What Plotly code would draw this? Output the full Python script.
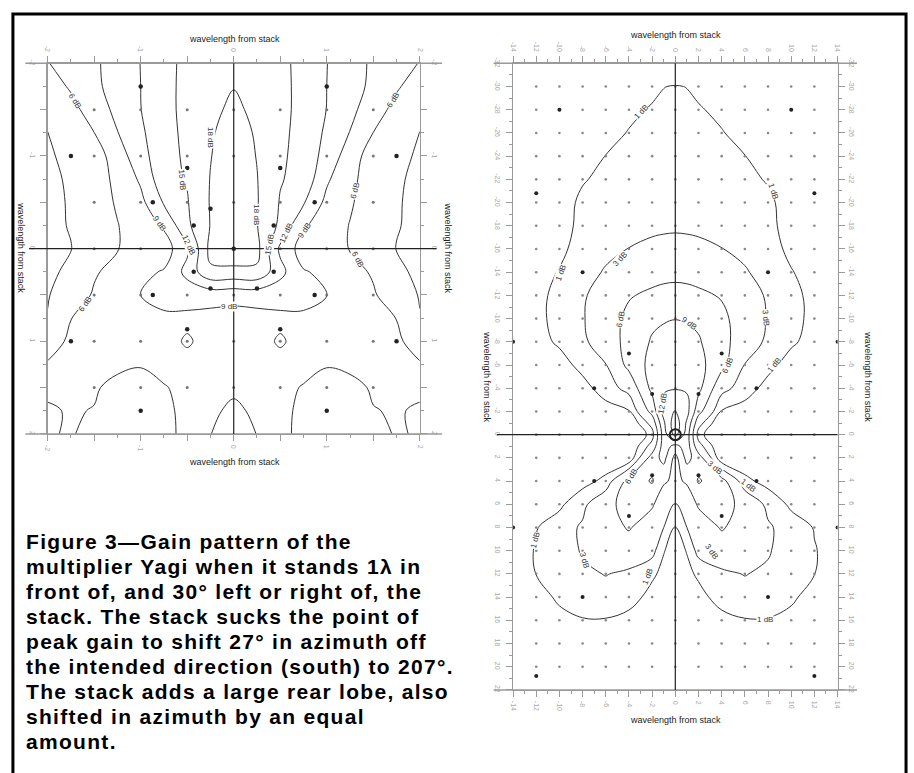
import plotly.graph_objects as go

W, H = 914, 773


def px(v):
    return v / W


def py(v):
    return 1 - v / H


# ---------------- data: left panel (close-in, +/-2 wavelengths) ----------------
left_x = [-2, -1.75, -1.5, -1.25, -1, -0.75, -0.5, -0.25, 0, 0.25, 0.5, 0.75, 1, 1.25, 1.5, 1.75, 2]
left_y = [-2, -1.75, -1.5, -1.25, -1, -0.75, -0.5, -0.25, 0, 0.25, 0.5, 0.75, 1, 1.25, 1.5, 1.75, 2]
left_gain_db = [
    [5.9, 7.0, 8.5, 10.3, 12.05, 13.9, 15.9, 16.7, 17.2, 16.7, 15.9, 13.9, 12.05, 10.3, 8.5, 7.0, 5.9],
    [4.8, 6.3, 8.4, 10.1, 12.0, 13.9, 16.0, 17.0, 17.9, 17.0, 16.0, 13.9, 12.0, 10.1, 8.4, 6.3, 4.8],
    [3.5, 5.2, 7.2, 9.85, 11.95, 13.9, 16.0, 17.3, 18.6, 17.3, 16.0, 13.9, 11.95, 9.85, 7.2, 5.2, 3.5],
    [2.97, 3.9, 5.98, 8.9, 11.4, 14.4, 15.4, 17.7, 19.2, 17.7, 15.4, 14.4, 11.4, 8.9, 5.98, 3.9, 2.97],
    [2.7, 3.6, 5.0, 7.0, 11.55, 12.8, 16.0, 17.9, 19.6, 17.9, 16.0, 12.8, 11.55, 7.0, 5.0, 3.6, 2.7],
    [2.5, 3.3, 4.8, 6.6, 9.46, 14.0, 15.2, 18.1, 19.8, 18.1, 15.2, 14.0, 9.46, 6.6, 4.8, 3.3, 2.5],
    [2.4, 3.2, 4.6, 6.3, 8.2, 12.3, 14.8, 18.2, 20.0, 18.2, 14.8, 12.3, 8.2, 6.3, 4.6, 3.2, 2.4],
    [2.6, 3.1, 4.5, 5.9, 7.4, 9.4, 14.4, 18.1, 20.0, 18.1, 14.4, 9.4, 7.4, 5.9, 4.5, 3.1, 2.6],
    [2.5, 2.95, 4.2, 5.9, 6.85, 7.6, 11.4, 18.9, 20.0, 18.9, 11.4, 7.6, 6.85, 5.9, 4.2, 2.95, 2.5],
    [2.6, 3.4, 5.6, 7.2, 8.4, 9.2, 12.9, 17.5, 17.3, 17.5, 12.9, 9.2, 8.4, 7.2, 5.6, 3.4, 2.6],
    [2.9, 3.9, 6.4, 7.5, 9.05, 9.8, 10.2, 10.2, 10.0, 10.2, 10.2, 9.8, 9.05, 7.5, 6.4, 3.9, 2.9],
    [3.07, 5.95, 7.0, 7.6, 8.3, 8.6, 8.4, 8.1, 7.9, 8.1, 8.4, 8.6, 8.3, 7.6, 7.0, 5.95, 3.07],
    [4.5, 6.6, 7.3, 7.5, 7.6, 8.1, 9.3, 8.1, 7.8, 8.1, 9.3, 8.1, 7.6, 7.5, 7.3, 6.6, 4.5],
    [6.29, 7.0, 7.0, 6.6, 6.2, 7.0, 8.2, 7.5, 7.2, 7.5, 8.2, 7.0, 6.2, 6.6, 7.0, 7.0, 6.29],
    [6.5, 6.6, 6.3, 5.2, 4.8, 5.8, 6.8, 7.0, 6.5, 7.0, 6.8, 5.8, 4.8, 5.2, 6.3, 6.6, 6.5],
    [5.7, 6.2, 5.9, 4.5, 4.2, 5.4, 6.7, 6.5, 5.46, 6.5, 6.7, 5.4, 4.2, 4.5, 5.9, 6.2, 5.7],
    [5.6, 6.4, 4.4, 3.8, 3.6, 4.6, 7.3, 6.1, 3.6, 6.1, 7.3, 4.6, 3.6, 3.8, 4.4, 6.4, 5.6],
]
left_levels = [3, 18, 3]  # start, end, step (dB)

left_dot_x = [-1.5, -1, -0.5, 0, 0.5, 1, 1.5]
left_dot_y = [-1.5, -1, -0.5, 0, 0.5, 1, 1.5]
left_bold_x = [-1, 1, -1.75, 1.75, -0.5, 0.5, -0.87, 0.87, -0.25, 0.25, -0.43, 0.43, 0,
               -0.43, 0.43, -0.25, 0.25, -0.87, 0.87, -0.5, 0.5, -1.75, 1.75, -1, 1]
left_bold_y = [-1.75, -1.75, -1, -1, -0.87, -0.87, -0.5, -0.5, -0.43, -0.43, -0.25, -0.25, 0,
               0.25, 0.25, 0.43, 0.43, 0.5, 0.5, 0.87, 0.87, 1, 1, 1.75, 1.75]

left_ticks_major = [-2, -1.5, -1, -0.5, 0, 0.5, 1, 1.5, 2]
left_ticks_text = ["-2", "", "-1", "", "0", "", "1", "", "2"]
left_ticks_minor = [-1.75, -1.25, -0.75, -0.25, 0.25, 0.75, 1.25, 1.75]

left_labels = [
    ("6 dB", -1.71, -1.6, 57), ("6 dB", 1.71, -1.6, -57),
    ("18 dB", -0.25, -1.2, 90), ("15 dB", -0.55, -0.74, 85),
    ("9 dB", -0.8, -0.27, 55), ("12 dB", -0.49, -0.04, 65),
    ("18 dB", 0.25, -0.36, 90), ("15 dB", 0.39, -0.04, -80),
    ("12 dB", 0.57, -0.17, -65), ("9 dB", 0.76, -0.2, -55),
    ("6 dB", 1.3, -0.62, -75), ("6 dB", -1.6, 0.6, -55),
    ("9 dB", -0.05, 0.62, 0), ("6 dB", 1.33, 0.12, 62),
]

# ---------------- data: right panel (far field) ----------------
right_x = [-14, -12, -10, -8, -6, -4, -2, -1, 0, 1, 2, 4, 6, 8, 10, 12, 14]
right_y = [-32, -30, -28, -26, -24, -22, -20, -18, -16, -14, -12, -10, -8, -6, -4,
           -2, -1, 0, 1, 2, 4, 6, 8, 10, 12, 14, 16, 18, 20, 22]
right_gain_db = [
    [-1.0, -1.0, -0.9, -0.7, -0.5, -0.3, -0.1, 0.0, 0.0, 0.0, -0.1, -0.3, -0.5, -0.7, -0.9, -1.0, -1.0],
    [-0.9, -0.7, -0.5, -0.2, 0.1, 0.4, 0.8, 0.98, 1.05, 0.98, 0.8, 0.4, 0.1, -0.2, -0.5, -0.7, -0.9],
    [-0.7, -0.5, -0.3, 0.0, 0.4, 0.8, 1.08, 1.2, 1.25, 1.2, 1.08, 0.8, 0.4, 0.0, -0.3, -0.5, -0.7],
    [-0.5, -0.3, -0.1, 0.2, 0.7, 1.05, 1.3, 1.4, 1.45, 1.4, 1.3, 1.05, 0.7, 0.2, -0.1, -0.3, -0.5],
    [-0.4, -0.2, 0.0, 0.5, 1.02, 1.3, 1.55, 1.65, 1.7, 1.65, 1.55, 1.3, 1.02, 0.5, 0.0, -0.2, -0.4],
    [-0.3, -0.1, 0.2, 0.9, 1.3, 1.6, 1.85, 1.95, 2.0, 1.95, 1.85, 1.6, 1.3, 0.9, 0.2, -0.1, -0.3],
    [-0.2, 0.0, 0.45, 1.25, 1.6, 1.9, 2.15, 2.25, 2.3, 2.25, 2.15, 1.9, 1.6, 1.25, 0.45, 0.0, -0.2],
    [-0.1, 0.1, 0.4, 1.4, 1.9, 2.2, 2.45, 2.55, 2.6, 2.55, 2.45, 2.2, 1.9, 1.4, 0.4, 0.1, -0.1],
    [0.0, 0.2, 0.6, 1.7, 2.5, 3.05, 3.6, 3.8, 3.9, 3.8, 3.6, 3.05, 2.5, 1.7, 0.6, 0.2, 0.0],
    [0.0, 0.3, 1.1, 2.2, 3.2, 4.3, 5.0, 5.2, 5.3, 5.2, 5.0, 4.3, 3.2, 2.2, 1.1, 0.3, 0.0],
    [0.1, 0.5, 1.5, 2.7, 4.2, 5.8, 6.5, 6.8, 6.9, 6.8, 6.5, 5.8, 4.2, 2.7, 1.5, 0.5, 0.1],
    [0.1, 0.5, 1.6, 2.8, 4.7, 6.6, 8.4, 8.8, 8.95, 8.8, 8.4, 6.6, 4.7, 2.8, 1.6, 0.5, 0.1],
    [0.0, 0.3, 1.3, 2.5, 4.5, 6.9, 9.3, 9.7, 10.0, 9.7, 9.3, 6.9, 4.5, 2.5, 1.3, 0.3, 0.0],
    [0.0, 0.0, 0.2, 1.6, 2.9, 6.8, 10.0, 10.8, 11.0, 10.8, 10.0, 6.8, 2.9, 1.6, 0.2, 0.0, 0.0],
    [0.0, 0.0, 0.0, 0.3, 1.9, 3.8, 9.8, 11.7, 11.8, 11.7, 9.8, 3.8, 1.9, 0.3, 0.0, 0.0, 0.0],
    [0.0, 0.0, 0.0, 0.0, 0.2, 0.8, 7.0, 13.0, 15.2, 13.0, 7.0, 0.8, 0.2, 0.0, 0.0, 0.0, 0.0],
    [0.0, 0.0, 0.0, 0.0, -0.5, -1.0, 4.0, 11.5, 17.0, 11.5, 4.0, -1.0, -0.5, 0.0, 0.0, 0.0, 0.0],
    [0.0, 0.0, 0.0, -0.5, -1.5, -2.0, 2.0, 10.5, 16.0, 10.5, 2.0, -2.0, -1.5, -0.5, 0.0, 0.0, 0.0],
    [0.0, 0.0, 0.0, 0.0, -0.5, -1.0, 4.0, 10.5, 8.0, 10.5, 4.0, -1.0, -0.5, 0.0, 0.0, 0.0, 0.0],
    [0.0, 0.0, 0.0, 0.0, -0.3, -0.6, 7.4, 10.0, 5.0, 10.0, 7.4, -0.6, -0.3, 0.0, 0.0, 0.0, 0.0],
    [0.0, 0.0, 0.0, 0.3, 1.5, 7.1, 9.3, 6.3, 5.5, 6.3, 9.3, 7.1, 1.5, 0.3, 0.0, 0.0, 0.0],
    [0.0, 0.2, 0.6, 2.4, 5.2, 7.0, 6.3, 4.5, 2.9, 4.5, 6.3, 7.0, 5.2, 2.4, 0.6, 0.2, 0.0],
    [0.2, 0.9, 2.0, 3.3, 5.0, 6.2, 4.6, 3.0, 0.8, 3.0, 4.6, 6.2, 5.0, 3.3, 2.0, 0.9, 0.2],
    [0.3, 1.1, 1.3, 3.3, 4.7, 4.8, 3.8, 1.06, 0.5, 1.06, 3.8, 4.8, 4.7, 3.3, 1.3, 1.1, 0.3],
    [0.3, 1.02, 1.9, 2.5, 3.1, 2.5, 1.2, 0.7, 0.4, 0.7, 1.2, 2.5, 3.1, 2.5, 1.9, 1.02, 0.3],
    [0.0, 0.3, 1.3, 1.8, 2.0, 1.5, 0.6, 0.3, 0.2, 0.3, 0.6, 1.5, 2.0, 1.8, 1.3, 0.3, 0.0],
    [0.0, 0.1, 0.5, 0.9, 0.9, 0.6, 0.3, 0.15, 0.1, 0.15, 0.3, 0.6, 0.9, 0.9, 0.5, 0.1, 0.0],
    [0.0, 0.0, 0.3, 0.5, 0.5, 0.3, 0.1, 0.0, 0.0, 0.0, 0.1, 0.3, 0.5, 0.5, 0.3, 0.0, 0.0],
    [0.0, 0.0, 0.0, 0.0, 0.0, 0.0, 0.0, 0.0, 0.0, 0.0, 0.0, 0.0, 0.0, 0.0, 0.0, 0.0, 0.0],
    [0.0, 0.0, 0.0, 0.0, 0.0, 0.0, 0.0, 0.0, 0.0, 0.0, 0.0, 0.0, 0.0, 0.0, 0.0, 0.0, 0.0],
]
right_level_low = [1, 1, 1]
right_levels = [3, 15, 3]

right_dot_x = [-12, -10, -8, -6, -4, -2, 0, 2, 4, 6, 8, 10, 12]
right_dot_y = [-30, -28, -26, -24, -22, -20, -18, -16, -14, -12, -10, -8, -6, -4, -2,
               0, 2, 4, 6, 8, 10, 12, 14, 16, 18, 20]
right_bold_x = [-10, 10, -12, 12, -8, 8, -14, 14, -4, 4, -7, 7, -2, 2,
                -2, 2, -7, 7, -4, 4, -8, 8, -14, 14, -12, 12]
right_bold_y = [-28, -28, -20.8, -20.8, -14, -14, -8, -8, -7, -7, -4, -4, -3.5, -3.5,
                3.5, 3.5, 4, 4, 7, 7, 14, 14, 8, 8, 20.8, 20.8]
stack_x = [0]
stack_y = [0]

right_ticks_x = [-14, -12, -10, -8, -6, -4, -2, 0, 2, 4, 6, 8, 10, 12, 14]
right_ticks_x_minor = [-13, -11, -9, -7, -5, -3, -1, 1, 3, 5, 7, 9, 11, 13]
right_ticks_y = [-32, -30, -28, -26, -24, -22, -20, -18, -16, -14, -12, -10, -8, -6, -4, -2,
                 0, 2, 4, 6, 8, 10, 12, 14, 16, 18, 20, 22]
right_ticks_y_minor = [-31, -29, -27, -25, -23, -21, -19, -17, -15, -13, -11, -9, -7, -5, -3, -1,
                       1, 3, 5, 7, 9, 11, 13, 15, 17, 19, 21]

right_labels = [
    ("1 dB", -3.0, -27.8, -47), ("1 dB", 8.4, -21.0, 72), ("1 dB", -9.9, -13.9, -70),
    ("1 dB", 8.5, -6.0, -50), ("3 dB", -4.8, -15.1, -47), ("3 dB", 7.8, -10.1, 85),
    ("6 dB", -4.7, -9.9, -78), ("6 dB", 4.5, -6.0, -66), ("9 dB", 1.2, -9.6, 35),
    ("12 dB", -1.1, -2.7, -80),
    ("1 dB", -12.1, 9.1, -75), ("3 dB", -7.9, 10.8, 75), ("1 dB", -2.4, 12.2, -68),
    ("6 dB", -3.8, 3.6, -59), ("3 dB", 3.4, 2.8, 40), ("1 dB", 6.3, 4.4, 38),
    ("3 dB", 3.1, 10.1, 55), ("1 dB", 7.7, 15.9, 0),
]

caption_lines = [
    "Figure 3\u2014Gain pattern of the",
    "multiplier Yagi when it stands 1\u03bb in",
    "front of, and 30\u00b0 left or right of, the",
    "stack. The stack sucks the point of",
    "peak gain to shift 27\u00b0 in azimuth off",
    "the intended direction (south) to 207\u00b0.",
    "The stack adds a large rear lobe, also",
    "shifted in azimuth by an equal",
    "amount.",
]
axis_title = "wavelength from stack"

# ---------------- figure ----------------
FONT = "Liberation Sans, Arial, Helvetica, sans-serif"
LINE_C = "#333333"
AX_C = "#9a9a9a"
TICK_FONT = dict(family=FONT, size=7, color="#a8a8a8")

fig = go.Figure()

fig.add_trace(go.Contour(
    x=left_x, y=left_y, z=left_gain_db, xaxis="x", yaxis="y",
    contours=dict(coloring="none", start=left_levels[0], end=left_levels[1], size=left_levels[2]),
    line=dict(color=LINE_C, width=1, smoothing=1.0), showscale=False, hoverinfo="skip"))
fig.add_trace(go.Contour(
    x=right_x, y=right_y, z=right_gain_db, xaxis="x2", yaxis="y2",
    contours=dict(coloring="none", start=right_level_low[0], end=right_level_low[1], size=right_level_low[2]),
    line=dict(color=LINE_C, width=1, smoothing=1.1), showscale=False, hoverinfo="skip"))
fig.add_trace(go.Contour(
    x=right_x, y=right_y, z=right_gain_db, xaxis="x2", yaxis="y2",
    contours=dict(coloring="none", start=right_levels[0], end=right_levels[1], size=right_levels[2]),
    line=dict(color=LINE_C, width=1, smoothing=1.1), showscale=False, hoverinfo="skip"))

ldx = [x for y in left_dot_y for x in left_dot_x]
ldy = [y for y in left_dot_y for x in left_dot_x]
fig.add_trace(go.Scatter(x=ldx, y=ldy, mode="markers", xaxis="x", yaxis="y",
                         marker=dict(size=3, color="#777777"), hoverinfo="skip"))
fig.add_trace(go.Scatter(x=left_bold_x, y=left_bold_y, mode="markers", xaxis="x", yaxis="y",
                         marker=dict(size=4.5, color="#222222"), hoverinfo="skip"))
rdx = [x for y in right_dot_y for x in right_dot_x]
rdy = [y for y in right_dot_y for x in right_dot_x]
fig.add_trace(go.Scatter(x=rdx, y=rdy, mode="markers", xaxis="x2", yaxis="y2",
                         marker=dict(size=2.6, color="#888888"), hoverinfo="skip"))
fig.add_trace(go.Scatter(x=right_bold_x, y=right_bold_y, mode="markers", xaxis="x2", yaxis="y2",
                         marker=dict(size=4, color="#222222"), hoverinfo="skip"))
fig.add_trace(go.Scatter(x=stack_x, y=stack_y, mode="markers", xaxis="x2", yaxis="y2",
                         marker=dict(size=11, symbol="circle-open", color="#222222",
                                     line=dict(width=2, color="#222222")), hoverinfo="skip"))
fig.add_trace(go.Scatter(x=[], y=[], xaxis="x3", yaxis="y3", hoverinfo="skip"))
fig.add_trace(go.Scatter(x=[], y=[], xaxis="x4", yaxis="y4", hoverinfo="skip"))

L_DOM_X = [px(45), px(420)]
L_DOM_Y = [py(433), py(58)]
R_DOM_X = [px(514), px(841)]
R_DOM_Y = [py(692), py(58)]


def xax(dom, rng, vals, text, minor_vals, anchor, side, overlay=None, line=True):
    d = dict(domain=dom, range=rng, tickmode="array", tickvals=vals, ticktext=text,
             ticks="outside", ticklen=6, tickcolor=AX_C, tickwidth=1, tickangle=90,
             tickfont=TICK_FONT, showgrid=False, zeroline=False, showline=line,
             linecolor=AX_C, linewidth=1.5, mirror=line, anchor=anchor, side=side,
             fixedrange=True, ticklabelstandoff=2,
             minor=dict(tickvals=minor_vals, ticks="outside", ticklen=3, tickcolor=AX_C, showgrid=False))
    if overlay:
        d["overlaying"] = overlay
        d.pop("domain")
    return d


layout = dict(
    width=W, height=H, margin=dict(l=0, r=0, t=0, b=0),
    paper_bgcolor="white", plot_bgcolor="white", showlegend=False,
    xaxis=xax(L_DOM_X, [-2, 2], left_ticks_major, left_ticks_text, left_ticks_minor, "y", "bottom"),
    yaxis=xax(L_DOM_Y, [2, -2], left_ticks_major, left_ticks_text, left_ticks_minor, "x", "left"),
    xaxis3=xax(L_DOM_X, [-2, 2], left_ticks_major, left_ticks_text, left_ticks_minor, "y3", "top", "x", False),
    yaxis3=xax(L_DOM_Y, [2, -2], left_ticks_major, left_ticks_text, left_ticks_minor, "x3", "right", "y", False),
    xaxis2=xax(R_DOM_X, [-14, 14], right_ticks_x, [str(v) for v in right_ticks_x], right_ticks_x_minor, "y2", "bottom"),
    yaxis2=xax(R_DOM_Y, [22, -32], right_ticks_y, [str(v) for v in right_ticks_y], right_ticks_y_minor, "x2", "left"),
    xaxis4=xax(R_DOM_X, [-14, 14], right_ticks_x, [str(v) for v in right_ticks_x], right_ticks_x_minor, "y4", "top", "x2", False),
    yaxis4=xax(R_DOM_Y, [22, -32], right_ticks_y, [str(v) for v in right_ticks_y], right_ticks_y_minor, "x4", "right", "y2", False),
)
fig.update_layout(**layout)

shapes = []
shapes.append(dict(type="rect", xref="paper", yref="paper", x0=px(10), x1=px(910), y0=-0.05, y1=py(8),
                   line=dict(color="black", width=3), fillcolor="rgba(0,0,0,0)"))
for xa, ya, ext in (("x", "y", 1.045), ("x2", "y2", 1.0)):
    for yy in (0, 1):
        shapes.append(dict(type="line", xref=xa + " domain", yref=ya + " domain", x0=-0.06, x1=1.06,
                           y0=yy, y1=yy, line=dict(color=AX_C, width=1.5)))
    shapes.append(dict(type="line", xref=xa + " domain", yref=ya, x0=-0.05, x1=ext, y0=0, y1=0,
                       line=dict(color="#222222", width=1.2)))
    shapes.append(dict(type="line", xref=xa, yref=ya + " domain", x0=0, x1=0, y0=0, y1=1,
                       line=dict(color="#222222", width=1.2)))
fig.update_layout(shapes=shapes)

ann = []
TITLE_FONT = dict(family=FONT, size=9, color="#222222")
for (xx, yy, ang) in ((233, 33, 0), (233, 461, 0), (18, 245, 90), (448, 245, 90),
                      (678, 29, 0), (678, 722, 0), (488, 375, 90), (872, 375, 90)):
    ann.append(dict(text=axis_title, xref="paper", yref="paper", x=px(xx), y=py(yy),
                    xanchor="center", yanchor="middle", showarrow=False, textangle=ang, font=TITLE_FONT))

LABEL_FONT = dict(family=FONT, size=8, color="#333333")
for t, xx, yy, ang in left_labels:
    ann.append(dict(text=t, xref="x", yref="y", x=xx, y=yy, showarrow=False, textangle=ang,
                    font=LABEL_FONT, bgcolor="white", borderpad=0))
for t, xx, yy, ang in right_labels:
    ann.append(dict(text=t, xref="x2", yref="y2", x=xx, y=yy, showarrow=False, textangle=ang,
                    font=LABEL_FONT, bgcolor="white", borderpad=0))

CAP_FONT = dict(family=FONT, size=21, color="black")
for i, line in enumerate(caption_lines):
    base = 549 + i * 25.3
    ann.append(dict(text='<b><span style="letter-spacing:1.3px">' + line + '</span></b>',
                    xref="paper", yref="paper", x=px(21), y=py(base - 7.3),
                    xanchor="left", yanchor="middle", showarrow=False, font=CAP_FONT))
fig.update_layout(annotations=ann)

fig.write_html("out.html", config={"displayModeBar": False, "staticPlot": True},
               post_script="document.body.style.margin='0';")
